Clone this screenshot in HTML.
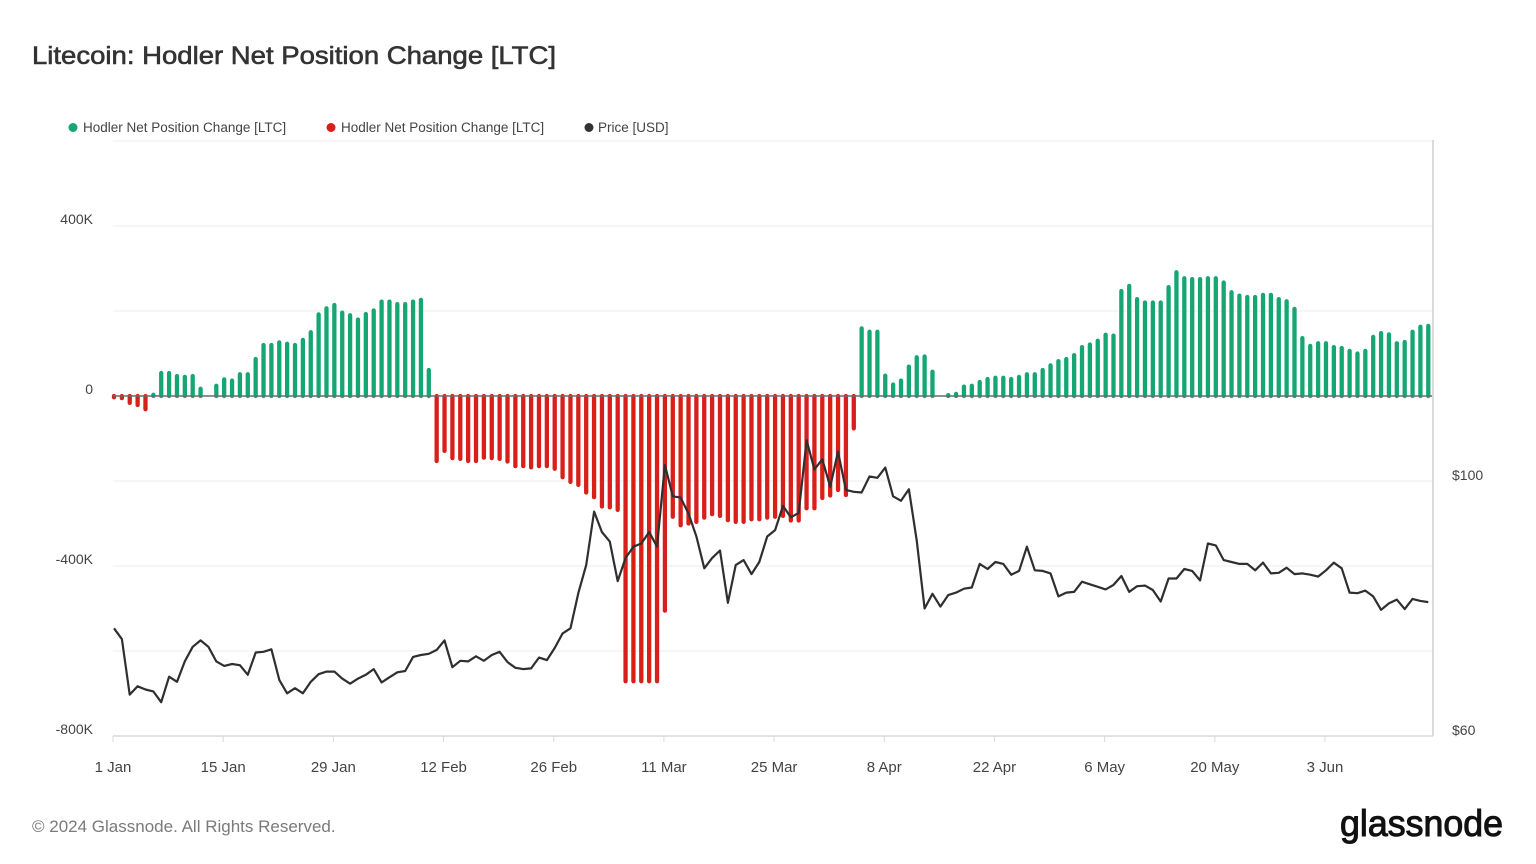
<!DOCTYPE html>
<html><head><meta charset="utf-8"><style>
html,body{margin:0;padding:0;background:#fff;width:1536px;height:864px;overflow:hidden;font-family:"Liberation Sans",sans-serif}
</style></head><body>
<svg id="chart" width="1536" height="864" viewBox="0 0 1536 864" xmlns="http://www.w3.org/2000/svg">
<text x="32" y="64" font-size="25" fill="#333" stroke="#333" stroke-width="0.6" textLength="524" lengthAdjust="spacingAndGlyphs">Litecoin: Hodler Net Position Change [LTC]</text>
<g font-size="13.5" fill="#444">
<g><circle cx="73" cy="127.5" r="4.5" fill="#16a673"/><text x="83" y="132">Hodler Net Position Change [LTC]</text></g>
<g><circle cx="331" cy="127.5" r="4.5" fill="#d81f1a"/><text x="341" y="132">Hodler Net Position Change [LTC]</text></g>
<g><circle cx="589" cy="127.5" r="4.5" fill="#333"/><text x="598" y="132">Price [USD]</text></g>
</g>
<g id="grid"></g>
<g id="bars"></g>
<g id="axes"></g>
<text x="32" y="832" font-size="17" fill="#7a7a7a">© 2024 Glassnode. All Rights Reserved.</text>
<text x="1340" y="836" font-size="37" fill="#111" stroke="#111" stroke-width="1" textLength="163" lengthAdjust="spacingAndGlyphs">glassnode</text>
</svg>
<script>
const netChange = [-3,-5,-16,-21,-31,3,54,54,47,45,47,17,0,24,39,36,51,51,87,120,120,126,123,120,132,150,192,206,214,196,190,180,193,201,222,222,216,216,222,226,61,
-153,-129,-146,-148,-153,-153,-145,-146,-148,-154,-165,-165,-168,-165,-165,-171,-191,-202,-209,-227,-238,-260,-262,-268,-671,-671,-671,-671,-671,-505,-284,-304,-300,-296,-286,-278,-282,-292,-296,-296,-290,-290,-286,-284,-282,-293,-293,-264,-264,-240,-234,-221,-233,-76,
159,151,151,48,27,36,69,91,93,57,0,2,5,22,24,33,40,43,43,40,45,51,51,61,72,82,87,96,115,121,130,144,142,247,259,228,220,220,220,256,291,277,275,275,277,277,267,244,236,233,233,238,238,228,223,205,136,118,124,124,115,113,106,100,106,139,148,145,124,127,151,163,165];
const price = [76.9,75.2,66.5,67.8,67.3,67.0,65.3,69.3,68.5,71.7,74.0,75.0,74.0,71.7,71.0,71.3,71.1,69.6,73.1,73.2,73.6,68.8,66.7,67.5,66.7,68.5,69.7,70.1,70.1,69.0,68.2,69.0,69.6,70.5,68.4,69.2,70.0,70.2,72.4,72.7,72.9,73.5,75.0,70.8,71.8,71.7,72.5,71.8,72.7,73.2,71.6,70.7,70.5,70.6,72.3,71.9,73.8,76.1,76.9,82.4,86.8,95.2,92.0,90.5,84.3,87.9,89.7,90.2,92.0,89.7,102.5,97.6,97.4,94.9,91.3,86.3,87.9,89.1,80.9,86.8,87.6,85.4,87.3,91.3,92.3,96.1,94.3,95.0,106.4,101.8,103.4,99.1,104.6,98.6,98.3,98.2,100.7,100.5,102.1,97.6,96.9,98.7,90.7,80.0,82.3,80.3,82.1,82.5,83.1,83.3,87.0,86.2,87.3,87.0,85.3,85.9,89.7,86.0,85.9,85.5,81.9,82.5,82.6,84.2,83.8,83.4,83.0,83.7,85.1,82.6,83.5,83.6,82.9,81.1,84.7,84.7,86.2,85.9,84.4,90.2,89.9,87.6,87.3,87.0,87.0,86.0,87.2,85.5,85.6,86.4,85.4,85.5,85.3,85.0,86.0,87.2,86.3,82.5,82.4,82.8,81.9,79.8,80.8,81.4,79.9,81.5,81.2,81.0];
const leftTicks = [400,0,-400,-800];
const leftTickLabels = ["400K","0","-400K","-800K"];
const rightTicks = [100,60];
const rightTickLabels = ["$100","$60"];
const xTickDays = [0,14,28,42,56,70,84,98,112,126,140,154];
const xTickLabels = ["1 Jan","15 Jan","29 Jan","12 Feb","26 Feb","11 Mar","25 Mar","8 Apr","22 Apr","6 May","20 May","3 Jun"];

const NS="http://www.w3.org/2000/svg";
const X0=114, STEP=7.87, PL=113, PR=1433, PT=140, PB=736;
const xs = d => X0 + d*STEP;
const yL = v => 396 - v*170/400;
const yR = p => 481 + (100-p)*255/40;
function mk(tag, attrs, parent){const e=document.createElementNS(NS,tag);for(const k in attrs)e.setAttribute(k,attrs[k]);parent.appendChild(e);return e;}
const grid=document.getElementById('grid'), bars=document.getElementById('bars'), axes=document.getElementById('axes');
[141,226,311,481,566,651].forEach(y=>{
  const l=mk('line',{x1:PL,x2:PR,y1:y,y2:y,stroke:'#eeeeee','stroke-width':1},grid);
  
  
});
netChange.forEach((v,i)=>{
  if(v===0) return;
  const x=xs(i), y0=yL(0), y1=yL(v);
  const b=mk('line',{x1:x,x2:x,y1:y0,y2:y1,stroke:v>0?'#16a673':'#d81f1a','stroke-width':4.3,'stroke-linecap':'round'},bars);
  
  
});
const z=mk('line',{x1:PL,x2:PR-1,y1:396,y2:396,stroke:'#6b6b6b','stroke-width':1.5},axes);


const pts=price.map((p,i)=>xs(i).toFixed(1)+','+yR(p).toFixed(1)).join(' ');
const pl=mk('polyline',{points:pts,fill:'none',stroke:'#2f2f2f','stroke-width':2.2,'stroke-linejoin':'round'},axes);


const ra=mk('line',{x1:PR,x2:PR,y1:PT,y2:PB,stroke:'#cfcfcf','stroke-width':1.5},axes);


const ba=mk('line',{x1:PL,x2:PR,y1:PB,y2:PB,stroke:'#d9d9d9','stroke-width':1.5},axes);


leftTicks.forEach((v,i)=>{
  const t=mk('text',{x:93,y:yL(v)-2,'text-anchor':'end','font-size':14,fill:'#444'},axes);
  t.textContent=leftTickLabels[i];
  
  
});
rightTicks.forEach((v,i)=>{
  const t=mk('text',{x:1452,y:yR(v)-1,'font-size':14,fill:'#444'},axes);
  t.textContent=rightTickLabels[i];
  
  
});
xTickDays.forEach((d,i)=>{
  const x=xs(d)-1;
  const tk=mk('line',{x1:x,x2:x,y1:PB,y2:PB+6,stroke:'#d9d9d9','stroke-width':1},axes);
  
  
  const t=mk('text',{x:x,y:772,'text-anchor':'middle','font-size':15,fill:'#444'},axes);
  t.textContent=xTickLabels[i];
  
  
});
</script>
</body></html>
